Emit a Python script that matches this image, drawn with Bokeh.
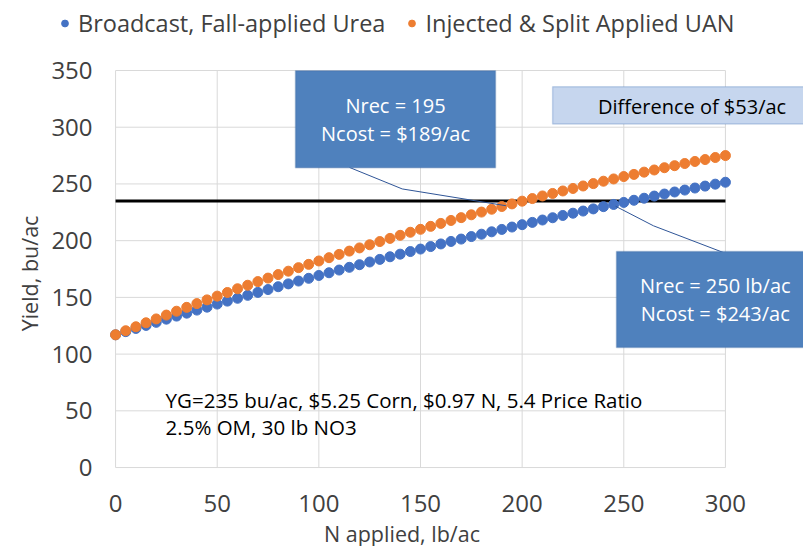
from bokeh.plotting import figure
from bokeh.models import (Range1d, FixedTicker, Legend, LegendItem, Label,
                          BoxAnnotation, ColumnDataSource)
from bokeh.embed import file_html
from bokeh.resources import INLINE

# ---------------- data ----------------
n_applied = list(range(0, 301, 5))

broadcast_urea = [
    117.0, 119.8, 122.6, 125.3, 128.0, 130.8, 133.5, 136.1, 138.8, 141.4,
    144.1, 146.7, 149.2, 151.8, 154.4, 156.9, 159.4, 161.9, 164.4, 166.8,
    169.3, 171.7, 174.1, 176.5, 178.8, 181.2, 183.5, 185.8, 188.1, 190.4,
    192.6, 194.8, 197.1, 199.3, 201.4, 203.6, 205.7, 207.8, 209.9, 212.0,
    214.1, 216.1, 218.2, 220.2, 222.2, 224.2, 226.1, 228.0, 230.0, 231.9,
    233.7, 235.6, 237.4, 239.3, 241.1, 242.9, 244.6, 246.4, 248.1, 249.8,
    251.5]

injected_uan = [
    117.0, 120.6, 124.1, 127.6, 131.0, 134.4, 137.8, 141.2, 144.5, 147.8,
    151.1, 154.3, 157.6, 160.7, 163.9, 167.0, 170.1, 173.1, 176.2, 179.1,
    182.1, 185.0, 187.9, 190.8, 193.6, 196.4, 199.2, 202.0, 204.7, 207.4,
    210.0, 212.6, 215.2, 217.8, 220.3, 222.8, 225.2, 227.7, 230.1, 232.4,
    234.8, 237.1, 239.4, 241.6, 243.8, 246.0, 248.2, 250.3, 252.4, 254.4,
    256.5, 258.4, 260.4, 262.3, 264.3, 266.1, 268.0, 269.8, 271.5, 273.3,
    275.0]

yield_goal = 235
x_ticks = [0, 50, 100, 150, 200, 250, 300]
y_ticks = [0, 50, 100, 150, 200, 250, 300, 350]

series_names = ["Broadcast, Fall-applied Urea", "Injected & Split Applied UAN"]
series_colors = ["#4472C4", "#ED7D31"]

# callout pointer paths (data coords)
callout1_x = [115, 141, 192]
callout1_y = [264.6, 245.6, 230.8]
callout2_x = [246, 264.6, 303.3]
callout2_y = [230.3, 213.1, 186.6]

FONT = "Open Sans"
TXT = "#404040"
GRID = "#d9d9d9"

# the frame covers the whole canvas; axes are pinned at x=0 / y=0
p = figure(width=803, height=546,
           x_range=Range1d(-56.6, 338.4), y_range=Range1d(-69.6, 411.7),
           output_backend="svg", toolbar_location=None,
           min_border_left=0, min_border_right=0,
           min_border_top=0, min_border_bottom=0)

p.background_fill_color = "white"
p.border_fill_color = "white"
p.outline_line_color = None
p.grid.visible = False

for ax in (p.xaxis[0], p.yaxis[0]):
    ax.fixed_location = 0
    ax.axis_line_color = None
    ax.major_tick_line_color = None
    ax.minor_tick_line_color = None
    ax.major_tick_out = 0
    ax.major_tick_in = 0
    ax.minor_tick_out = 0
    ax.minor_tick_in = 0
    ax.major_label_text_font = FONT
    ax.major_label_text_font_size = "24px"
    ax.major_label_text_color = TXT
    ax.axis_label_text_font = FONT
    ax.axis_label_text_font_size = "21.5px"
    ax.axis_label_text_font_style = "normal"
    ax.axis_label_text_color = TXT

p.xaxis.ticker = FixedTicker(ticks=x_ticks)
p.yaxis.ticker = FixedTicker(ticks=y_ticks)
p.xaxis.axis_label = "N applied, lb/ac"
p.yaxis.axis_label = "Yield, bu/ac"
p.xaxis.major_label_standoff = 27
p.yaxis.major_label_standoff = 23
p.xaxis.axis_label_standoff = 4
p.yaxis.axis_label_standoff = 4

# grid lines limited to the plotted N range / yield range
p.segment(x0=x_ticks[0], x1=x_ticks[-1], y0=y_ticks, y1=y_ticks,
          line_color=GRID, line_width=1, level="underlay")
p.segment(x0=x_ticks, x1=x_ticks, y0=y_ticks[0], y1=y_ticks[-1],
          line_color=GRID, line_width=1, level="underlay")

# yield goal line
p.line(x=[x_ticks[0], x_ticks[-1]], y=[yield_goal, yield_goal],
       line_color="black", line_width=3)

# series
src = ColumnDataSource(dict(x=n_applied, b=broadcast_urea, o=injected_uan))
r_b = p.scatter("x", "b", source=src, size=10, color=series_colors[0])
r_o = p.scatter("x", "o", source=src, size=10, color=series_colors[1])

# callout lines
p.line(x=callout1_x, y=callout1_y, line_color="#2F5597", line_width=1)
p.line(x=callout2_x, y=callout2_y, line_color="#2F5597", line_width=1)

# boxes
box_fill = "#4F81BD"
box_line = "#3A679E"
p.add_layout(BoxAnnotation(left=88.5, right=186.9, bottom=264.3, top=349.8,
                           fill_color=box_fill, fill_alpha=1,
                           line_color=box_line, line_width=1.5))
p.add_layout(BoxAnnotation(left=246.4, right=340.8, bottom=105.8, top=190.5,
                           fill_color=box_fill, fill_alpha=1,
                           line_color=box_line, line_width=1.5))
p.add_layout(BoxAnnotation(left=215.0, right=346.0, bottom=302.8, top=335.7,
                           fill_color="#C6D6EE", fill_alpha=1,
                           line_color="#4F7FBC", line_width=1.5))

def lab(x, y, text, color="white", align="center", size="20px"):
    p.add_layout(Label(x=x, y=y, text=text, text_font=FONT,
                       text_font_size=size, text_color=color,
                       text_align=align, text_baseline="middle"))

lab(137.7, 318.9, "Nrec = 195")
lab(137.7, 294.5, "Ncost = $189/ac")
lab(295.0, 160.1, "Nrec = 250 lb/ac")
lab(295.0, 135.5, "Ncost = $243/ac")
lab(283.6, 318.3, "Difference of $53/ac", color="black")
lab(24.6, 59.7, "YG=235 bu/ac, $5.25 Corn, $0.97 N, 5.4 Price Ratio",
    color="black", align="left", size="20.5px")
lab(24.6, 35.3, "2.5% OM, 30 lb NO3", color="black", align="left",
    size="20.5px")

# legend
legend = Legend(items=[LegendItem(label=series_names[0], renderers=[r_b]),
                       LegendItem(label=series_names[1], renderers=[r_o])],
                orientation="horizontal", location=(56, 507),
                border_line_color=None, background_fill_alpha=0,
                padding=0, margin=0, spacing=18,
                glyph_width=17, glyph_height=24, label_standoff=5,
                label_height=24,
                label_text_font=FONT, label_text_font_size="23.5px",
                label_text_color=TXT)
p.add_layout(legend)

open("out.html", "w").write(file_html(p, INLINE))
